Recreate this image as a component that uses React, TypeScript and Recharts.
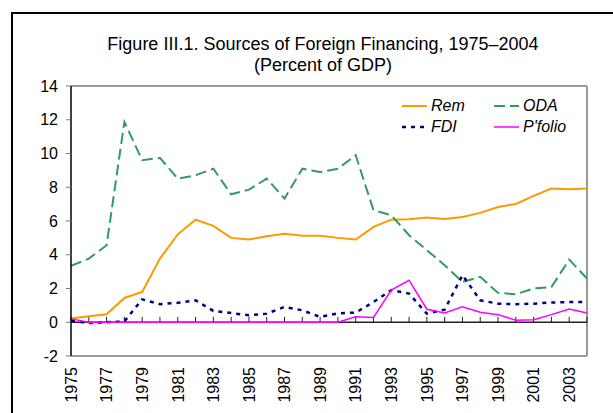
import React from 'react';
import { LineChart, Line, XAxis, YAxis, ReferenceLine } from 'recharts';

// values (percent of GDP)
const years = [
  '1975', '1976', '1977', '1978', '1979', '1980', '1981', '1982', '1983', '1984',
  '1985', '1986', '1987', '1988', '1989', '1990', '1991', '1992', '1993', '1994',
  '1995', '1996', '1997', '1998', '1999', '2000', '2001', '2002', '2003', '2004'
];
const rem = [
  0.22, 0.36, 0.47, 1.44, 1.8, 3.77, 5.21, 6.08, 5.71, 5.0,
  4.9, 5.1, 5.25, 5.12, 5.12, 5.0, 4.9, 5.65, 6.08, 6.1,
  6.2, 6.12, 6.24, 6.48, 6.83, 7.01, 7.49, 7.92, 7.88, 7.92
];
const oda = [
  3.34, 3.77, 4.56, 11.87, 9.6, 9.74, 8.51, 8.71, 9.1, 7.58,
  7.86, 8.51, 7.33, 9.1, 8.9, 9.1, 9.9, 6.64, 6.34, 5.16,
  4.27, 3.38, 2.39, 2.69, 1.74, 1.66, 2.0, 2.09, 3.71, 2.59
];
const fdi = [
  0.1, -0.05, 0.0, 0.05, 1.36, 1.07, 1.15, 1.3, 0.67, 0.55,
  0.41, 0.51, 0.91, 0.71, 0.32, 0.53, 0.57, 1.2, 1.9, 1.7,
  0.51, 0.75, 2.79, 1.3, 1.1, 1.07, 1.1, 1.17, 1.2, 1.2
];
const pfolio = [
  0.2, 0, 0, 0, 0, 0, 0, 0, 0, 0,
  0, 0, 0, 0, 0, 0, 0.32, 0.28, 1.9, 2.49,
  0.77, 0.55, 0.91, 0.59, 0.45, 0.12, 0.15, 0.45, 0.79, 0.55
];
const yTicks = [-2, 0, 2, 4, 6, 8, 10, 12, 14];

const data = years.map((year, i) => ({
  year,
  rem: rem[i],
  oda: oda[i],
  fdi: fdi[i],
  pfolio: pfolio[i]
}));

const series = [
  { key: 'rem', name: 'Rem', color: '#FF9900', width: 2, dash: undefined },
  { key: 'oda', name: 'ODA', color: '#339966', width: 2, dash: '11 5' },
  { key: 'fdi', name: 'FDI', color: '#000080', width: 2.5, dash: '4 5' },
  { key: 'pfolio', name: "P'folio", color: '#FF00FF', width: 1.5, dash: undefined }
];

const FONT = '"Liberation Sans", Arial, sans-serif';

function YearTick(props: any) {
  const { x, y, payload } = props;
  return (
    <text
      x={x}
      y={y}
      dy="0.36em"
      transform={`rotate(-90, ${x}, ${y})`}
      textAnchor="end"
      fontSize={16}
      fontFamily={FONT}
      fill="#000"
    >
      {payload.value}
    </text>
  );
}

function LegendBox() {
  return (
    <div
      style={{
        position: 'absolute',
        left: 402,
        top: 96,
        display: 'grid',
        gridTemplateColumns: '92px 90px',
        rowGap: 2,
        fontFamily: FONT,
        fontSize: 16,
        fontStyle: 'italic',
        color: '#000'
      }}
    >
      {series.map((s) => (
        <div key={s.key} style={{ display: 'flex', alignItems: 'center', height: 19 }}>
          <svg width={25} height={10} style={{ marginRight: 4 }}>
            <line
              x1={0}
              y1={5}
              x2={25}
              y2={5}
              stroke={s.color}
              strokeWidth={s.width}
              strokeDasharray={s.dash}
            />
          </svg>
          <span>{s.name}</span>
        </div>
      ))}
    </div>
  );
}

export default function App() {
  return (
    <div
      style={{
        position: 'absolute',
        left: 0,
        top: 0,
        width: 613,
        height: 413,
        overflow: 'hidden',
        background: '#fff',
        fontFamily: FONT
      }}
    >
      <div
        style={{
          position: 'absolute',
          left: 11,
          top: 12,
          width: 700,
          height: 500,
          border: '2px solid #000'
        }}
      />
      <div
        style={{
          position: 'absolute',
          left: 0,
          width: 646,
          top: 34,
          textAlign: 'center',
          fontSize: 18,
          lineHeight: '21px',
          color: '#000'
        }}
      >
        <div>Figure III.1. Sources of Foreign Financing, 1975–2004</div>
        <div>(Percent of GDP)</div>
      </div>
      <div style={{ position: 'absolute', left: 0, top: 0 }}>
        <LineChart
          width={613}
          height={413}
          data={data}
          margin={{ top: 86, right: 26, bottom: 0, left: 0 }}
        >
          <XAxis
            dataKey="year"
            scale="point"
            padding={{ left: 0, right: 0 }}
            interval={1}
            height={57}
            axisLine={{ stroke: '#999', strokeWidth: 2 }}
            tickLine={false}
            tickSize={6}
            tickMargin={5}
            tick={<YearTick />}
          />
          <YAxis
            domain={[-2, 14]}
            ticks={yTicks}
            width={71}
            interval={0}
            axisLine={{ stroke: '#000', strokeWidth: 1.5 }}
            tickLine={{ stroke: '#777' }}
            tickSize={5}
            tickMargin={8}
            tick={{ fontSize: 16, fontFamily: FONT, fill: '#000' }}
          />
          <ReferenceLine y={14} stroke="#999" strokeWidth={2} />
          <ReferenceLine x="2004" stroke="#999" strokeWidth={2} />
          <ReferenceLine y={0} stroke="#222" strokeWidth={1.5} />
          {years.map((yr) => (
            <ReferenceLine
              key={`tick-${yr}`}
              segment={[
                { x: yr, y: 0 },
                { x: yr, y: 0.32 }
              ]}
              stroke="#222"
              strokeWidth={1}
            />
          ))}
          {series.map((s) => (
            <Line
              key={s.key}
              dataKey={s.key}
              name={s.name}
              type="linear"
              stroke={s.color}
              strokeWidth={s.width}
              strokeDasharray={s.dash}
              dot={false}
              activeDot={false}
              isAnimationActive={false}
            />
          ))}
        </LineChart>
      </div>
      <LegendBox />
    </div>
  );
}
